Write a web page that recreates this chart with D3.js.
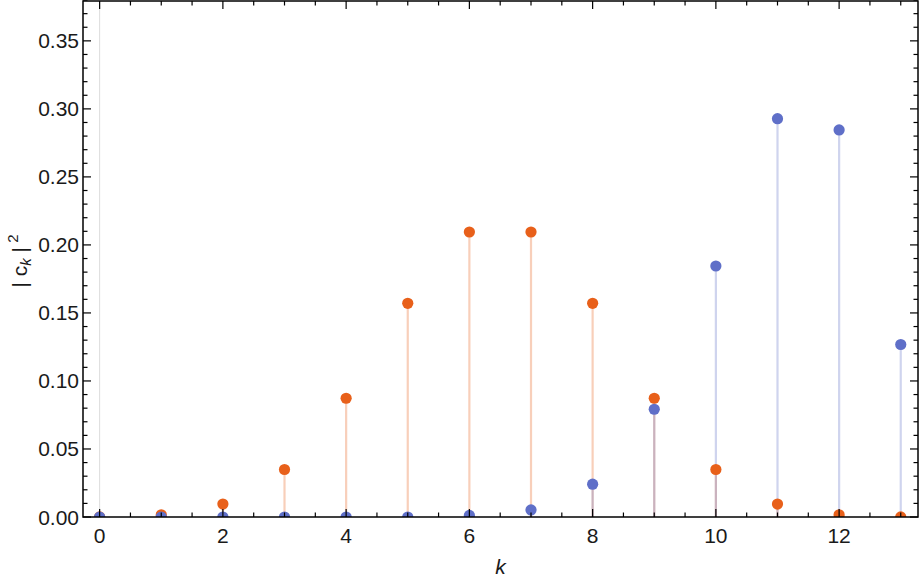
<!DOCTYPE html>
<html>
<head>
<meta charset="utf-8">
<script src="https://cdn.jsdelivr.net/npm/d3@7"></script>
<style>
  body { margin: 0; background: #fff; }
  text { font-family: "Liberation Sans", Arial, sans-serif; }
</style>
</head>
<body>
<script>
var swidth = 920,
    sheight = 581,
    margin = {top: 1, right: 2, bottom: 64, left: 83},
    width = swidth - margin.left - margin.right,
    height = sheight - margin.top - margin.bottom;

// values
var ks = [0, 1, 2, 3, 4, 5, 6, 7, 8, 9, 10, 11, 12, 13];
var orangeVals = [0.0001, 0.0016, 0.0095, 0.0349, 0.0873, 0.1571, 0.2095, 0.2095, 0.1571, 0.0873, 0.0349, 0.0095, 0.0016, 0.0001];
var blueVals = [0, 0, 0, 0, 0, 0, 0.0012, 0.0052, 0.0241, 0.0792, 0.1845, 0.2928, 0.2845, 0.1268];
var xTicks = [0, 2, 4, 6, 8, 10, 12];
var yTicks = [0, 0.05, 0.10, 0.15, 0.20, 0.25, 0.30, 0.35];

var orange = "#e8601a",
    blue = "#5f6fc8";

var svg = d3.select("body").append("svg")
    .attr("width", swidth)
    .attr("height", sheight);

var g = svg.append("g")
    .attr("transform", "translate(" + margin.left + "," + margin.top + ")");

var x = d3.scaleLinear()
    .domain([-0.27, 13.28])
    .range([0, width]);

var y = d3.scaleLinear()
    .domain([0, 0.3793])
    .range([height, 0]);

g.append("clipPath")
  .attr("id", "clip")
  .append("rect")
  .attr("width", width)
  .attr("height", height);

var plot = g.append("g").attr("clip-path", "url(#clip)");

// light vertical axis line at k = 0
plot.append("line")
  .attr("x1", x(0)).attr("x2", x(0))
  .attr("y1", 0).attr("y2", height)
  .attr("stroke", "#dcdcdc")
  .attr("stroke-width", 1);

function stems(vals, col) {
  plot.append("g")
    .selectAll("line")
    .data(vals)
    .enter().append("line")
    .attr("x1", function(d, i) { return x(ks[i]); })
    .attr("x2", function(d, i) { return x(ks[i]); })
    .attr("y1", y(0))
    .attr("y2", function(d) { return y(d); })
    .attr("stroke", col)
    .attr("stroke-opacity", 0.3)
    .attr("stroke-width", 2.2);
}

function dots(vals, col) {
  plot.append("g")
    .selectAll("circle")
    .data(vals)
    .enter().append("circle")
    .attr("cx", function(d, i) { return x(ks[i]); })
    .attr("cy", function(d) { return y(d); })
    .attr("r", 5.6)
    .attr("fill", col);
}

stems(orangeVals, orange);
stems(blueVals, blue);
dots(orangeVals, orange);
dots(blueVals, blue);

// frame with inward ticks on all four sides
var xMinor = d3.range(0, 13.01, 0.5);
var yMinor = d3.range(0, 0.3801, 0.01);

function tickLen(v, majors, big, small) {
  return majors.some(function(m) { return Math.abs(m - v) < 1e-6; }) ? big : small;
}

var axisG = g.append("g").attr("stroke", "#000");

axisG.selectAll("line.xb")
  .data(xMinor)
  .enter().append("line")
  .attr("x1", function(d) { return x(d); })
  .attr("x2", function(d) { return x(d); })
  .attr("y1", height)
  .attr("y2", function(d) { return height - tickLen(d, xTicks, 8, 4.5); })
  .attr("stroke-width", 1.2);

axisG.selectAll("line.xt")
  .data(xMinor)
  .enter().append("line")
  .attr("x1", function(d) { return x(d); })
  .attr("x2", function(d) { return x(d); })
  .attr("y1", 0)
  .attr("y2", function(d) { return tickLen(d, xTicks, 8, 4.5); })
  .attr("stroke-width", 1.2);

axisG.selectAll("line.yl")
  .data(yMinor)
  .enter().append("line")
  .attr("x1", 0)
  .attr("x2", function(d) { return tickLen(d, yTicks, 8, 4.5); })
  .attr("y1", function(d) { return y(d); })
  .attr("y2", function(d) { return y(d); })
  .attr("stroke-width", 1.2);

axisG.selectAll("line.yr")
  .data(yMinor)
  .enter().append("line")
  .attr("x1", width)
  .attr("x2", function(d) { return width - tickLen(d, yTicks, 8, 4.5); })
  .attr("y1", function(d) { return y(d); })
  .attr("y2", function(d) { return y(d); })
  .attr("stroke-width", 1.2);

g.append("rect")
  .attr("width", width)
  .attr("height", height)
  .attr("fill", "none")
  .attr("stroke", "#000")
  .attr("stroke-width", 1.5);

// tick labels
g.selectAll("text.xl")
  .data(xTicks)
  .enter().append("text")
  .attr("x", function(d) { return x(d); })
  .attr("y", height + 26)
  .attr("text-anchor", "middle")
  .attr("font-size", 21)
  .attr("fill", "#1a1a1a")
  .text(function(d) { return d; });

g.selectAll("text.yl")
  .data(yTicks)
  .enter().append("text")
  .attr("x", -4)
  .attr("y", function(d) { return y(d) + 7.5; })
  .attr("text-anchor", "end")
  .attr("font-size", 21)
  .attr("fill", "#1a1a1a")
  .text(function(d) { return d3.format(".2f")(d); });

// axis titles
g.append("text")
  .attr("x", width / 2)
  .attr("y", height + 57)
  .attr("text-anchor", "middle")
  .attr("font-size", 21)
  .attr("font-style", "italic")
  .attr("fill", "#1a1a1a")
  .text("k");

var yl = svg.append("text")
  .attr("transform", "translate(27," + 261 + ") rotate(-90)")
  .attr("text-anchor", "middle")
  .attr("font-size", 21)
  .attr("fill", "#1a1a1a");
yl.append("tspan").text("| c");
yl.append("tspan").attr("font-size", 15).attr("font-style", "italic").attr("dy", 4).text("k");
yl.append("tspan").attr("dy", -4).text(" |");
yl.append("tspan").attr("font-size", 15).attr("dy", -9).text(" 2");
</script>
</body>
</html>
